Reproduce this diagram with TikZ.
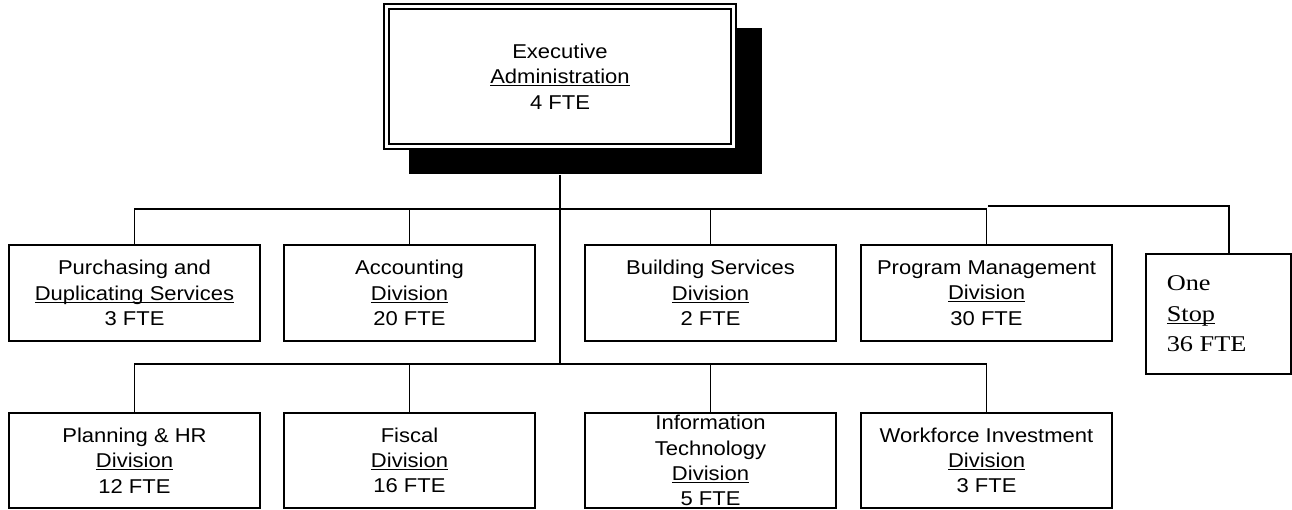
\documentclass[tikz,border=0pt]{standalone}
\usepackage{fontspec}
\newfontfamily\arialx{Liberation Sans}[FakeStretch=1.1]
\newfontfamily\timesx{Liberation Serif}[FakeStretch=1.17]
\newcommand\ulx[1]{\setbox0=\hbox{#1}\rlap{\rule[-2.6pt]{\wd0}{1.1pt}}\box0}
\begin{document}
\begin{tikzpicture}[x=1pt,y=-1pt,line width=1.6pt,
  box/.style={draw,line width=1.6pt,fill=white,inner sep=0pt,minimum width=251pt,minimum height=96pt},
  lowbox/.style={box,minimum height=95pt},
  txt/.style={font=\arialx\fontsize{20}{25.3}\selectfont,align=center,inner sep=0pt},
  serif/.style={font=\timesx\fontsize{22.5}{30.5}\selectfont,align=left,inner sep=0pt,anchor=west},
  conn/.style={draw,line width=1.6pt}]
\useasboundingbox (0,0) rectangle (1292,510);
% executive box with shadow and double border
\node[fill=black,inner sep=0pt,minimum width=353pt,minimum height=146pt] (shadow) at (585.5,101) {};
\node[draw,fill=white,line width=1.2pt,inner sep=0pt,minimum width=352pt,minimum height=145pt] (exec) at (560,76.5) {};
\node[draw,line width=1.2pt,inner sep=0pt,minimum width=342pt,minimum height=135pt] (execin) at (exec.center) {};
\node[txt] (exect) at (exec.center) {Executive\\\ulx{Administration}\\4 FTE};
% helper coordinates for the bus lines
\coordinate (th) at (0,209);
\coordinate (bh) at (0,364);
\coordinate (osl) at (988,206);
% top row
\node[box] (pur) at (134.5,293) {};
\node[box] (acc) at (409.5,293) {};
\node[box] (bs) at (710.5,293) {};
\node[box] (pm) at (986.5,293) {};
\node[txt] (purt) at (pur.center) {Purchasing and\\\ulx{Duplicating Services}\\3 FTE};
\node[txt] (acct) at (acc.center) {Accounting\\\ulx{Division}\\20 FTE};
\node[txt] (bst) at (bs.center) {Building Services\\\ulx{Division}\\2 FTE};
\node[txt] (pmt) at (pm.center) {Program Management\\\ulx{Division}\\30 FTE};
% one stop
\node[draw,line width=1.6pt,inner sep=0pt,minimum width=145pt,minimum height=120pt] (os) at (1218.5,314) {};
\node[serif] (ost) at (1166,314) {One\\\ulx{Stop}\\36 FTE};
% bottom row
\node[lowbox] (phr) at (134.5,460.5) {};
\node[lowbox] (fis) at (409.5,460.5) {};
\node[lowbox] (it) at (710.5,460.5) {};
\node[lowbox] (wfi) at (986.5,460.5) {};
\node[txt] (phrt) at (phr.center) {Planning \& HR\\\ulx{Division}\\12 FTE};
\node[txt] (fist) at (fis.center) {Fiscal\\\ulx{Division}\\16 FTE};
\node[txt] (itt) at (it.center) {Information\\Technology\\\ulx{Division}\\5 FTE};
\node[txt] (wfit) at (wfi.center) {Workforce Investment\\\ulx{Division}\\3 FTE};
% connectors
\draw[conn] (shadow.south -| exec.south) -- (exec.south |- bh);
\draw[conn] (pur.north) -- (pur.north |- th) -- (pm.north |- th) -- (pm.north);
\draw[conn] (acc.north) -- (acc.north |- th);
\draw[conn] (bs.north) -- (bs.north |- th);
\draw[conn] (phr.north) -- (phr.north |- bh) -- (wfi.north |- bh) -- (wfi.north);
\draw[conn] (fis.north) -- (fis.north |- bh);
\draw[conn] (it.north) -- (it.north |- bh);
\draw[conn] (osl) -- ([xshift=10.5pt]os.north |- osl) -- ([xshift=10.5pt]os.north);
\end{tikzpicture}
\end{document}
